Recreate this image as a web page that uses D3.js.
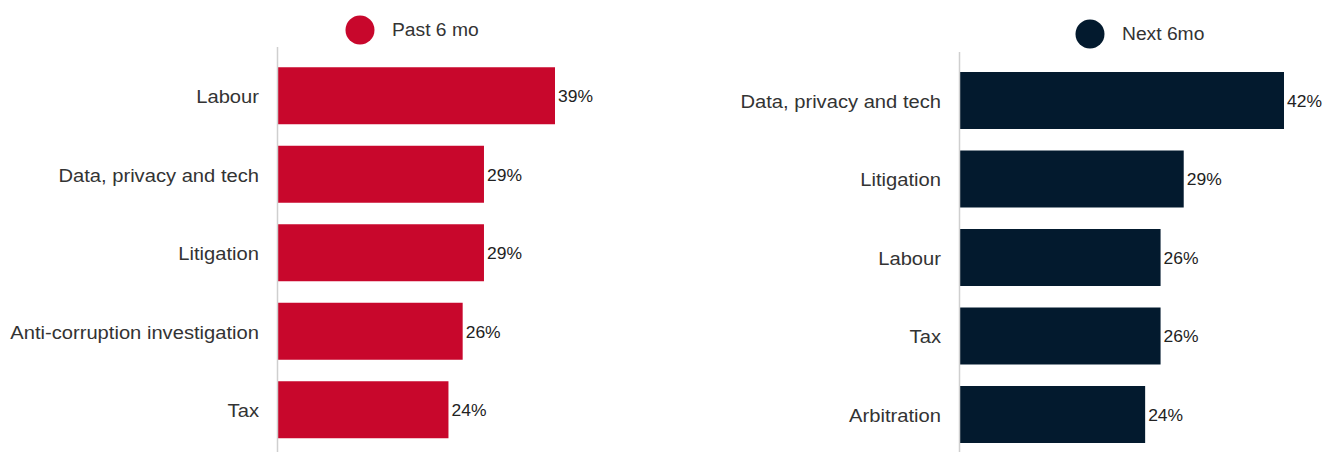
<!DOCTYPE html>
<html>
<head>
<meta charset="utf-8">
<script src="https://cdn.jsdelivr.net/npm/d3@7"></script>
<style>
  html, body { margin: 0; padding: 0; background: #fff; }
  svg { display: block; font-family: "Liberation Sans", Arial, sans-serif; }
</style>
</head>
<body>
<svg id="chart" width="1325" height="452"></svg>
<script>
// Share of respondents by area, past six months vs next six months
const pastCategories = ["Labour", "Data, privacy and tech", "Litigation", "Anti-corruption investigation", "Tax"];
const pastValues = [39, 29, 29, 26, 24];

const nextCategories = ["Data, privacy and tech", "Litigation", "Labour", "Tax", "Arbitration"];
const nextValues = [42, 29, 26, 26, 24];

const seriesNames = ["Past 6 mo", "Next 6mo"];
const seriesColors = ["#c8072c", "#031a2e"];

const svg = d3.select("#chart");

const panels = [
  { name: seriesNames[0], color: seriesColors[0], cats: pastCategories, vals: pastValues,
    x0: 278, x1: 555, yTop: 56.5, yBottom: 449, axisTop: 47, legendX: 360, legendY: 30 },
  { name: seriesNames[1], color: seriesColors[1], cats: nextCategories, vals: nextValues,
    x0: 960, x1: 1284, yTop: 61.25, yBottom: 453.75, axisTop: 52, legendX: 1090, legendY: 34 }
];

panels.forEach(p => {
  const g = svg.append("g");
  const data = p.cats.map((c, i) => ({ cat: c, val: p.vals[i] }));

  const x = d3.scaleLinear()
    .domain([0, d3.max(p.vals)])
    .range([p.x0, p.x1]);

  const y = d3.scaleBand()
    .domain(p.cats)
    .range([p.yTop, p.yBottom])
    .paddingInner(0.274)
    .paddingOuter(0.137);

  // legend
  g.append("circle")
    .attr("cx", p.legendX)
    .attr("cy", p.legendY)
    .attr("r", 14.5)
    .attr("fill", p.color);
  g.append("text")
    .attr("transform", `translate(${p.legendX + 32},${p.legendY}) scale(1.07,1)`)
    .attr("dy", "0.36em")
    .attr("font-size", 18)
    .attr("fill", "#333")
    .text(p.name);

  // bars
  g.selectAll("rect.bar")
    .data(data)
    .join("rect")
    .attr("class", "bar")
    .attr("x", x(0))
    .attr("y", d => y(d.cat))
    .attr("width", d => x(d.val) - x(0))
    .attr("height", y.bandwidth())
    .attr("fill", p.color);

  // vertical baseline
  g.append("line")
    .attr("x1", x(0) - 0.5)
    .attr("x2", x(0) - 0.5)
    .attr("y1", p.axisTop)
    .attr("y2", 452)
    .attr("stroke", "#cfcfcf")
    .attr("stroke-width", 1.5);

  // category labels
  g.selectAll("text.cat")
    .data(data)
    .join("text")
    .attr("class", "cat")
    .attr("transform", d => `translate(${x(0) - 19},${y(d.cat) + y.bandwidth() / 2}) scale(1.09,1)`)
    .attr("text-anchor", "end")
    .attr("dy", "0.4em")
    .attr("font-size", 18.5)
    .attr("fill", "#333")
    .text(d => d.cat);

  // value labels
  g.selectAll("text.val")
    .data(data)
    .join("text")
    .attr("class", "val")
    .attr("transform", d => `translate(${x(d.val) + 3},${y(d.cat) + y.bandwidth() / 2}) scale(1.06,1)`)
    .attr("dy", "0.38em")
    .attr("font-size", 16.5)
    .attr("fill", "#222")
    .text(d => d.val + "%");
});
</script>
</body>
</html>
